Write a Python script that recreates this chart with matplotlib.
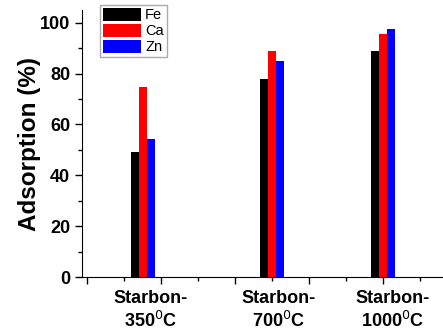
import numpy as np
import matplotlib.pyplot as plt
from matplotlib.ticker import MultipleLocator, NullFormatter

plt.rcParams['font.family'] = ['Liberation Sans', 'DejaVu Sans']

# carbonisation temperatures (x positions of the groups)
temps = [350, 700, 1000]
group_labels = ['Starbon-\n350$^0$C', 'Starbon-\n700$^0$C', 'Starbon-\n1000$^0$C']
metals = ['Fe', 'Ca', 'Zn']
colors = ['black', 'red', 'blue']
fe = [49.3, 77.7, 89.0]
ca = [74.6, 88.9, 95.7]
zn = [54.1, 84.8, 97.5]

fig = plt.figure(figsize=(4.43, 3.33), dpi=100)
ax = fig.add_axes([0.185, 0.168, 0.813, 0.802])

width = 22
for i, (vals, name, c) in enumerate(zip([fe, ca, zn], metals, colors)):
    x = np.array(temps) + (i - 1) * width
    ax.bar(x, vals, width=width, color=c, label=name, edgecolor='none')

ax.set_xlim(185, 1160)
ax.set_ylim(0, 105)
ax.xaxis.set_major_locator(MultipleLocator(200))
ax.xaxis.set_minor_locator(MultipleLocator(100))
ax.xaxis.set_major_formatter(NullFormatter())
ax.yaxis.set_major_locator(MultipleLocator(20))
ax.yaxis.set_minor_locator(MultipleLocator(10))
ax.tick_params(which='major', direction='out', length=5, width=1, labelsize=13)
ax.tick_params(which='minor', direction='out', length=3, width=1)
for lab in ax.get_yticklabels():
    lab.set_fontweight('bold')
ax.spines['top'].set_visible(False)
ax.spines['right'].set_visible(False)

ax.set_ylabel('Adsorption (%)', fontsize=17.5, fontweight='bold', labelpad=-1)

# group labels below the axis
offsets = [22, 18, 25]
for t, lab, off in zip(temps, group_labels, offsets):
    ax.text(t + off, -5, lab, transform=ax.transData, ha='center', va='top',
            fontsize=13, fontweight='bold', linespacing=1.25, clip_on=False)

leg = ax.legend(loc='upper left', bbox_to_anchor=(0.05, 1.02), fontsize=10.5,
                handlelength=2.6, handleheight=1.0, handletextpad=0.3,
                labelspacing=0.1, borderpad=0.2, borderaxespad=0,
                fancybox=False, edgecolor='#aaaaaa', framealpha=1)

fig.savefig('out.png', dpi=100)
